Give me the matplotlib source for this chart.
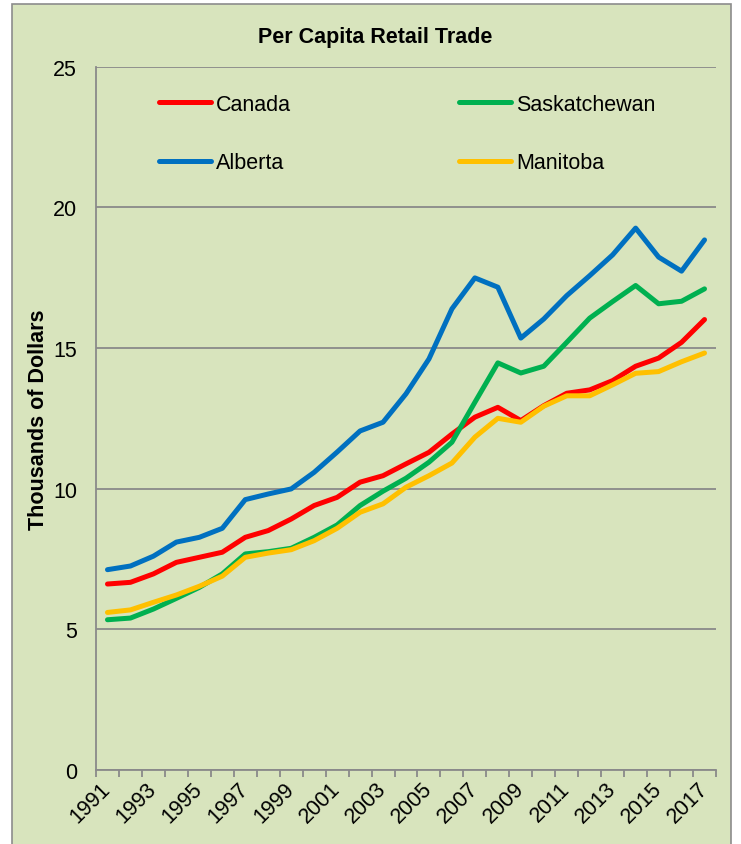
import numpy as np
import matplotlib.pyplot as plt
from matplotlib.patches import Rectangle

years = np.arange(1991, 2018)

canada = [6.61, 6.67, 6.97, 7.38, 7.56, 7.74, 8.27, 8.51, 8.92, 9.40, 9.69, 10.23, 10.46, 10.88,
          11.29, 11.94, 12.54, 12.89, 12.42, 12.95, 13.39, 13.51, 13.84, 14.35, 14.64, 15.20, 16.01]
saskatchewan = [5.34, 5.40, 5.72, 6.10, 6.49, 6.97, 7.68, 7.76, 7.88, 8.27, 8.71, 9.40, 9.91, 10.37,
                10.94, 11.65, 13.07, 14.47, 14.11, 14.35, 15.20, 16.06, 16.65, 17.22, 16.57, 16.66, 17.10]
alberta = [7.12, 7.25, 7.60, 8.10, 8.27, 8.59, 9.61, 9.81, 9.99, 10.58, 11.30, 12.05, 12.36, 13.37,
           14.61, 16.39, 17.49, 17.16, 15.35, 16.03, 16.86, 17.57, 18.31, 19.26, 18.23, 17.73, 18.84]
manitoba = [5.60, 5.69, 5.96, 6.22, 6.53, 6.89, 7.56, 7.71, 7.83, 8.15, 8.59, 9.16, 9.46, 10.05,
            10.46, 10.91, 11.83, 12.50, 12.36, 12.93, 13.30, 13.30, 13.69, 14.10, 14.16, 14.51, 14.82]

plt.rcParams['font.family'] = ['Liberation Sans', 'DejaVu Sans']

bg = '#D8E4BD'
grid = '#8A8A8A'
fs = 15.5

fig = plt.figure(figsize=(7.41, 8.45), dpi=100)
fig.patch.set_facecolor('white')
fig.patches.append(Rectangle((12/741, -0.01), (731-12)/741, 1.01 - 5/845, transform=fig.transFigure,
                             facecolor=bg, edgecolor='#8C8C8C', linewidth=1.2, zorder=-10))

ax = fig.add_axes([96/741, 1 - 771/845, (716-96)/741, (771-67.6)/845])
ax.set_facecolor('none')

x = np.arange(len(years))
lw = 3.6
l1, = ax.plot(x, canada, color='#FF0000', lw=lw, solid_capstyle='round', label='Canada')
l2, = ax.plot(x, saskatchewan, color='#00B050', lw=lw, solid_capstyle='round', label='Saskatchewan')
l3, = ax.plot(x, alberta, color='#0070C0', lw=lw, solid_capstyle='round', label='Alberta')
l4, = ax.plot(x, manitoba, color='#FFC000', lw=lw, solid_capstyle='round', label='Manitoba')

ax.set_xlim(-0.5, len(years) - 0.5)
ax.set_ylim(0, 25)
ax.set_yticks([0, 5, 10, 15, 20, 25])
ax.yaxis.grid(True, color=grid, linewidth=1.3)
ax.set_axisbelow(True)

for s in ['top', 'right']:
    ax.spines[s].set_visible(False)
ax.spines['left'].set_color(grid)
ax.spines['left'].set_linewidth(1.3)
ax.spines['bottom'].set_color(grid)
ax.spines['bottom'].set_linewidth(1.3)

ax.tick_params(axis='y', length=0, pad=13.5, labelsize=fs)
ax.set_xticks(x[::2])
ax.set_xticklabels([str(y) for y in years[::2]], rotation=45, ha='right', va='center',
                   rotation_mode='anchor', fontsize=fs)
ax.tick_params(axis='x', which='major', length=0, pad=11)
ax.set_xticks(np.arange(-0.5, len(years)), minor=True)
ax.tick_params(axis='x', which='minor', length=5, width=1.3, color=grid, direction='out')

ax.set_ylabel('Thousands of Dollars', fontsize=fs, fontweight='bold')
ax.yaxis.set_label_coords((49 - 96) / 620, 0.5)

fig.text(375/741, 1 - 38/845, 'Per Capita Retail Trade', ha='center', va='center',
         fontsize=fs, fontweight='bold')

ax.legend(handles=[l1, l3, l2, l4], ncol=2, frameon=False, fontsize=fs,
          loc='upper left', bbox_to_anchor=(159/741, 1 - 95/845), bbox_transform=fig.transFigure,
          handlelength=2.4, handletextpad=0.25, labelspacing=1.73, columnspacing=7.8,
          borderpad=0, borderaxespad=0)

fig.savefig('out.png', dpi=100)
